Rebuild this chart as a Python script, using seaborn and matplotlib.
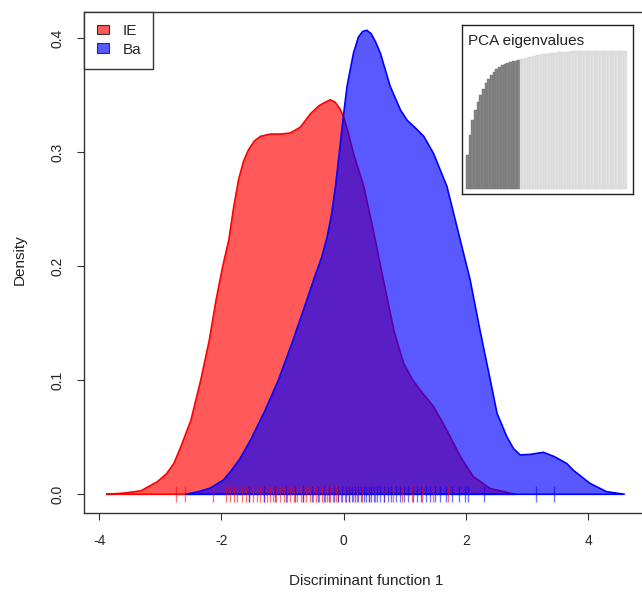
import numpy as np
import pandas as pd
import matplotlib
matplotlib.use("Agg")
import matplotlib.pyplot as plt
import seaborn as sns
from matplotlib.patches import Patch

# density curve of discriminant function 1, group IE
ie_x = [-3.89, -3.6, -3.32, -3.05, -2.9, -2.78, -2.67, -2.5, -2.34, -2.2, -2.09, -1.98,
        -1.88, -1.80, -1.72, -1.64, -1.56, -1.46, -1.36, -1.20, -1.02, -0.87, -0.71, -0.54,
        -0.40, -0.30, -0.22, -0.14, -0.06, 0.0, 0.08, 0.16, 0.33, 0.49, 0.65, 0.82, 0.98, 1.12, 1.25,
        1.47, 1.69, 1.91, 2.12, 2.40, 2.81]
ie_y = [0.0, 0.001, 0.003, 0.011, 0.018, 0.027, 0.041, 0.065, 0.100, 0.135, 0.170, 0.200,
        0.223, 0.252, 0.276, 0.292, 0.302, 0.310, 0.314, 0.316, 0.316, 0.317, 0.322, 0.334,
        0.341, 0.344, 0.346, 0.344, 0.338, 0.331, 0.316, 0.299, 0.270, 0.230, 0.188, 0.144, 0.115, 0.101, 0.0915,
        0.077, 0.056, 0.033, 0.0155, 0.005, 0.0]

# density curve, group Ba
ba_x = [-2.59, -2.4, -2.18, -1.97, -1.85, -1.70, -1.52, -1.3, -1.07, -0.85, -0.65, -0.48,
        -0.36, -0.27, -0.20, -0.13, -0.06, 0.0, 0.055, 0.16, 0.24, 0.31, 0.38, 0.45, 0.52,
        0.60, 0.76, 0.93, 1.04, 1.18, 1.31, 1.47, 1.69, 1.88, 2.07, 2.23, 2.40, 2.51, 2.67,
        2.78, 2.89, 3.05, 3.27, 3.45, 3.65, 3.76, 4.03, 4.30, 4.60]
ba_y = [0.0, 0.002, 0.0055, 0.0125, 0.020, 0.031, 0.048, 0.072, 0.100, 0.132, 0.163, 0.190,
        0.208, 0.226, 0.245, 0.272, 0.305, 0.334, 0.358, 0.387, 0.401, 0.406, 0.407, 0.404, 0.397,
        0.387, 0.358, 0.337, 0.328, 0.321, 0.314, 0.299, 0.270, 0.229, 0.188, 0.144, 0.100, 0.071, 0.0505,
        0.040, 0.0345, 0.035, 0.0368, 0.033, 0.027, 0.021, 0.0096, 0.0023, 0.0]

# individual scores (rug)
ie_scores = [-2.75, -2.60, -2.14, -1.92, -1.86, -1.80, -1.74, -1.66, -1.60, -1.55, -1.48, -1.42,
             -1.37, -1.31, -1.26, -1.21, -1.15, -1.10, -1.05, -0.98, -0.93, -0.88, -0.82, -0.76,
             -0.70, -0.66, -0.61, -0.55, -0.50, -0.45, -0.40, -0.36, -0.31, -0.27, -0.22, -0.18,
             -0.13, -0.09, -0.04, 0.02, 0.08, 0.15, 0.22, 0.30, 0.41, 0.52, 0.66, 0.80, 0.95,
             1.12, 1.28, 1.46, 1.70]
ba_scores = [-1.55, -1.30, -1.12, -0.95, -0.80, -0.66, -0.52, -0.42, -0.33, -0.24, -0.16, -0.09,
             -0.03, 0.03, 0.09, 0.14, 0.19, 0.24, 0.29, 0.33, 0.37, 0.41, 0.45, 0.50, 0.55, 0.60,
             0.66, 0.72, 0.78, 0.85, 0.92, 0.99, 1.06, 1.13, 1.20, 1.27, 1.34, 1.42, 1.50, 1.58,
             1.67, 1.77, 1.88, 1.98, 2.04, 2.30, 3.15, 3.44]

groups = ["IE", "Ba"]
group_colors = ["red", "blue"]

# PCA eigenvalues inset (cumulative, relative), first 20 retained
eig_cum = [0.246, 0.390, 0.499, 0.571, 0.631, 0.680, 0.723, 0.764, 0.795, 0.822,
           0.846, 0.865, 0.880, 0.894, 0.904, 0.911, 0.918, 0.923, 0.928, 0.933,
           0.937, 0.942, 0.947, 0.952, 0.957, 0.961, 0.966, 0.971, 0.973, 0.976,
           0.978, 0.981, 0.983, 0.986, 0.988, 0.990, 0.991, 0.993, 0.994, 0.995,
           0.996, 0.996, 0.997, 0.997, 0.997, 0.998, 0.998, 0.998, 0.998, 0.999,
           0.999, 0.999, 0.999, 0.999, 1.0, 1.0, 1.0, 1.0, 1.0, 1.0]
n_retained = 20

sns.set_style("ticks")
plt.rcParams['font.family'] = ['Liberation Sans', 'DejaVu Sans']

fig = plt.figure(figsize=(6.42, 5.92), dpi=100)
ax = fig.add_axes([0.1313, 0.1329, 0.879, 0.8473])

# densities: red first, blue on top
for cx, cy, col in [(ie_x, ie_y, "red"), (ba_x, ba_y, "blue")]:
    ax.fill(cx, cy, facecolor=matplotlib.colors.to_rgba(col, 0.65), edgecolor=col, lw=1.2, zorder=2)

# rug of individual scores
rug = pd.DataFrame({
    "score": ie_scores + ba_scores,
    "group": ["IE"] * len(ie_scores) + ["Ba"] * len(ba_scores),
})
rug["y"] = 0.0
for g, col in zip(groups, group_colors):
    sub = rug[rug["group"] == g]
    sns.scatterplot(data=sub, x="score", y="y", marker="|", s=120, color=col,
                    alpha=0.55, linewidth=1.0, ax=ax, zorder=3)

ax.set_xlim(-4.245, 4.99)
ax.set_ylim(-0.0167, 0.4233)
ax.set_xticks([-4, -2, 0, 2, 4])
ax.set_xticklabels(["-4", "-2", "0", "2", "4"])
ax.set_yticks([0.0, 0.1, 0.2, 0.3, 0.4])
ax.set_yticklabels(["0.0", "0.1", "0.2", "0.3", "0.4"], rotation=90, va="center")
ax.tick_params(axis="both", direction="out", length=5, width=0.8, color="#333333",
               labelsize=10, labelcolor="#222222")
ax.tick_params(axis="x", pad=10)
ax.tick_params(axis="y", pad=9)
for sp in ax.spines.values():
    sp.set_visible(True)
    sp.set_color("#333333")
    sp.set_linewidth(1.0)

ax.set_xlabel("Discriminant function 1", fontsize=11, color="#222222")
ax.set_ylabel("Density", fontsize=11, color="#222222")
ax.xaxis.set_label_coords(0.5, -0.121)
ax.yaxis.set_label_coords(-0.102, 0.505)

handles = [Patch(facecolor=matplotlib.colors.to_rgba(c, 0.65), edgecolor="#333333", lw=0.8)
           for c in group_colors]
leg = ax.legend(handles, groups, loc="upper left", borderaxespad=0, fontsize=11,
                frameon=True, fancybox=False, edgecolor="#333333", framealpha=1,
                handlelength=0.8, handleheight=0.6, handletextpad=0.9,
                labelspacing=0.3, borderpad=0.8)
leg.get_frame().set_linewidth(1.0)

# inset with PCA eigenvalues
ins = fig.add_axes([0.7192, 0.6718, 0.2664, 0.286])
eig = pd.DataFrame({
    "pc": np.arange(len(eig_cum)),
    "value": eig_cum,
    "kept": ["yes" if i < n_retained else "no" for i in range(len(eig_cum))],
})
sns.barplot(data=eig, x="pc", y="value", hue="kept", palette={"yes": "#858585", "no": "#e2e2e2"},
            width=1.0, dodge=False, edgecolor="#cfcfcf", linewidth=0.3, legend=False, ax=ins)
for p in ins.patches[:n_retained]:
    p.set_edgecolor("#6e6e6e")
ins.set_xlim(-2.1, 61.74)
ins.set_ylim(-0.038, 1.186)
ins.set_xticks([])
ins.set_yticks([])
ins.set_xlabel("")
ins.set_ylabel("")
ins.text(0.25, 1.072, "PCA eigenvalues", fontsize=11, color="#222222", ha="left", va="center")
for sp in ins.spines.values():
    sp.set_visible(True)
    sp.set_color("#222222")
    sp.set_linewidth(1.0)

fig.savefig("out.png", dpi=100)
